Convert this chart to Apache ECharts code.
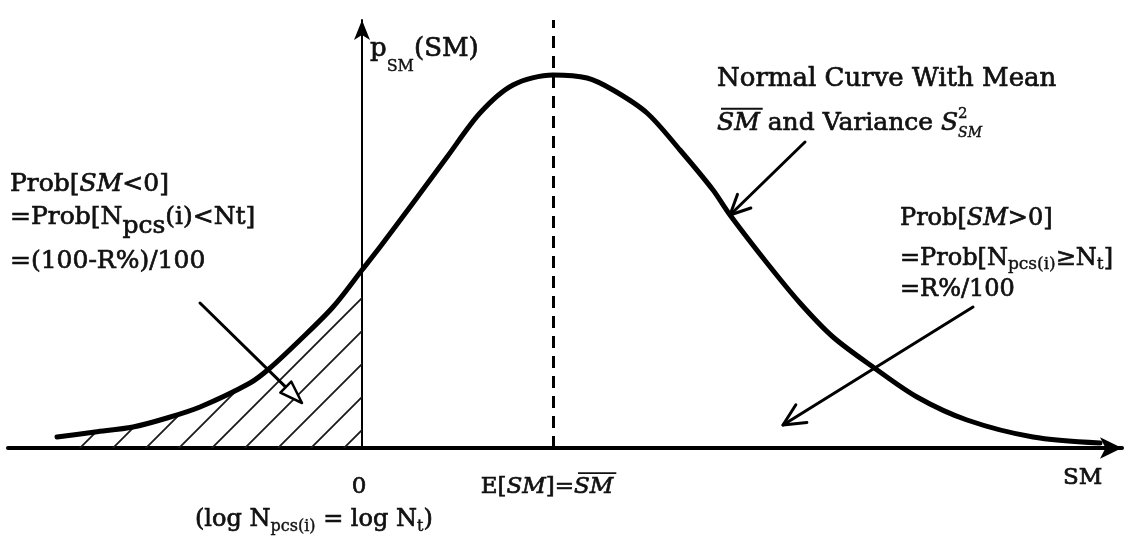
<!DOCTYPE html>
<html>
<head>
<meta charset="utf-8">
<script src="https://cdn.jsdelivr.net/npm/echarts@6/dist/echarts.min.js"></script>
<style>
  html, body { margin: 0; padding: 0; background: #fff; }
  #chart { width: 1134px; height: 545px; }
</style>
</head>
<body>
<div id="chart"></div>
<script>
// Safety margin SM (horizontal axis) and the normal density p_SM(SM) drawn over it
const smValues = [-3.05, -2.67, -2.29, -1.95, -1.62, -1.12, -0.92, -0.62, -0.29, 0.00,
                  0.18, 0.51, 0.85, 1.18, 1.51, 1.91, 2.25, 2.51, 2.85, 3.18,
                  3.51, 3.68, 4.05, 4.38, 4.71, 5.11, 5.55, 6.05, 6.71, 7.38];
const density  = [0.11, 0.16, 0.21, 0.30, 0.41, 0.65, 0.80, 1.08, 1.41, 1.78,
                  2.01, 2.45, 2.91, 3.35, 3.63, 3.73, 3.70, 3.58, 3.35, 2.98,
                  2.58, 2.33, 1.85, 1.45, 1.11, 0.81, 0.51, 0.28, 0.11, 0.05];
const meanSM = 1.91;   // E[SM]
const zeroSM = 0;      // log Npcs(i) = log Nt

// Arrow anchors in axis units: [from, to]
const arrowFail  = [[-1.62, 1.45], [-0.60, 0.45]];
const arrowCurve = [[4.43, 3.06], [3.68, 2.33]];
const arrowPass  = [[6.11, 1.41], [4.21, 0.23]];

const curve = smValues.map((x, i) => [x, density[i]]);
const failTail = curve.filter(p => p[0] <= zeroSM);

// Diagonal hatching for the failure region
const hatch = document.createElement('canvas');
hatch.width = 33; hatch.height = 33;
(function () {
  const g = hatch.getContext('2d');
  g.strokeStyle = '#1a1a1a';
  g.lineWidth = 1.8;
  g.beginPath();
  g.moveTo(-3, 36); g.lineTo(36, -3);
  g.moveTo(-3, 3); g.lineTo(3, -3);
  g.moveTo(30, 36); g.lineTo(36, 30);
  g.stroke();
})();

const FONT = '"DejaVu Serif", serif';
const INK = '#111';
const chart = echarts.init(document.getElementById('chart'), null, { renderer: 'canvas' });

chart.setOption({
  animation: false,
  backgroundColor: '#fff',
  grid: { left: 8, right: 12, top: 20, bottom: 97 },
  xAxis: {
    type: 'value', min: -3.54, max: 7.60,
    axisLine: { show: true, onZero: true, symbol: ['none', 'arrow'], symbolSize: [16, 22],
                lineStyle: { color: '#000', width: 4 } },
    axisTick: { show: false }, axisLabel: { show: false }, splitLine: { show: false }
  },
  yAxis: {
    type: 'value', min: 0, max: 4.28,
    axisLine: { show: true, onZero: true, symbol: ['none', 'arrow'], symbolSize: [12, 20],
                lineStyle: { color: '#000', width: 2 } },
    axisTick: { show: false }, axisLabel: { show: false }, splitLine: { show: false }
  },
  series: [
    {
      name: 'Prob[SM<0]', type: 'line', data: failTail, smooth: 0.3,
      symbol: 'none', z: 1, silent: true,
      lineStyle: { width: 0, opacity: 0 },
      areaStyle: { color: { image: hatch, repeat: 'repeat' }, opacity: 1 }
    },
    {
      name: 'p_SM(SM)', type: 'line', data: curve, smooth: 0.3,
      symbol: 'none', z: 3, silent: true,
      lineStyle: { color: '#000', width: 5, cap: 'round', join: 'round' },
      markLine: {
        silent: true, symbol: ['none', 'none'], label: { show: false },
        lineStyle: { color: '#000', width: 3, type: [12, 8] },
        data: [{ xAxis: meanSM }]
      }
    }
  ]
});

// ---- annotations ----
const mctx = document.createElement('canvas').getContext('2d');
function textRuns(x0, baseline, parts, size) {
  let x = x0, lastX = x0;
  const out = [];
  parts.forEach(p => {
    const s = p.s || size;
    const fs = p.i ? 'italic' : 'normal';
    mctx.font = fs + ' ' + s + 'px ' + FONT;
    const w = mctx.measureText(p.t).width;
    const px = p.stack ? lastX : x;
    const by = baseline + (p.dy || 0);
    out.push({
      type: 'text', x: px, y: by - 0.35 * s, silent: true, z: 10,
      style: { text: p.t, fontSize: s, fontFamily: FONT, fontStyle: fs, fill: INK,
               stroke: INK, lineWidth: s > 18 ? 0.7 : 0.4,
               textAlign: 'left', textVerticalAlign: 'middle' }
    });
    if (p.ov) {
      const oy = by - 0.73 * s - 5;
      out.push({ type: 'line', silent: true, z: 10,
        shape: { x1: px + 4, y1: oy, x2: px + w + 3, y2: oy },
        style: { stroke: INK, lineWidth: 1.8 } });
    }
    if (p.stack) { x = Math.max(x, px + w); } else { lastX = x; x += w; }
  });
  return out;
}
function centeredRuns(cx, baseline, parts, size) {
  let w = 0;
  parts.forEach(p => {
    mctx.font = (p.i ? 'italic ' : 'normal ') + (p.s || size) + 'px ' + FONT;
    w += mctx.measureText(p.t).width;
  });
  return textRuns(cx - w / 2, baseline, parts, size);
}

const px = p => chart.convertToPixel({ gridIndex: 0 }, p);
function arrow(pair, head, len, half) {
  const a = px(pair[0]), b = px(pair[1]);
  const ang = Math.atan2(b[1] - a[1], b[0] - a[0]);
  const l = [b[0] - len * Math.cos(ang - half), b[1] - len * Math.sin(ang - half)];
  const r = [b[0] - len * Math.cos(ang + half), b[1] - len * Math.sin(ang + half)];
  const els = [];
  if (head === 'open') {
    const base = [b[0] - len * Math.cos(ang) * Math.cos(half), b[1] - len * Math.sin(ang) * Math.cos(half)];
    els.push({ type: 'line', silent: true, z: 9, shape: { x1: a[0], y1: a[1], x2: base[0], y2: base[1] },
               style: { stroke: '#000', lineWidth: 3, lineCap: 'round' } });
    els.push({ type: 'polygon', silent: true, z: 9, shape: { points: [l, b, r] },
               style: { fill: '#fff', stroke: '#000', lineWidth: 2.5, lineJoin: 'round' } });
  } else {
    els.push({ type: 'line', silent: true, z: 9, shape: { x1: a[0], y1: a[1], x2: b[0], y2: b[1] },
               style: { stroke: '#000', lineWidth: 3, lineCap: 'round' } });
    els.push({ type: 'polyline', silent: true, z: 9, shape: { points: [l, b, r] },
               style: { stroke: '#000', lineWidth: 3, lineCap: 'round', lineJoin: 'round', fill: null } });
  }
  return els;
}

const zeroPx = px([zeroSM, 0]);
const meanPx = px([meanSM, 0]);

let graphics = [];
// y-axis title
graphics = graphics.concat(textRuns(zeroPx[0] + 8, 58,
  [{ t: 'p' }, { t: 'SM', s: 16, dy: 14 }, { t: '(SM)' }], 26));
// curve description
graphics = graphics.concat(textRuns(717, 88, [{ t: 'Normal Curve With Mean' }], 26));
graphics = graphics.concat(textRuns(717, 132,
  [{ t: 'SM', i: 1, ov: 1 }, { t: ' and Variance ' }, { t: 'S', i: 1 },
   { t: '2', s: 15, dy: -13 }, { t: 'SM', s: 14, i: 1, dy: 6, stack: 1 }], 25));
// failure probability
graphics = graphics.concat(textRuns(10, 193, [{ t: 'Prob[' }, { t: 'SM', i: 1 }, { t: '<0]' }], 25));
graphics = graphics.concat(textRuns(10, 226, [{ t: '=Prob[N' }, { t: 'pcs', dy: 9 }, { t: '(i)<Nt]' }], 25));
graphics = graphics.concat(textRuns(10, 270, [{ t: '=(100-R%)/100' }], 25));
// reliability
graphics = graphics.concat(textRuns(900, 227, [{ t: 'Prob[' }, { t: 'SM', i: 1 }, { t: '>0]' }], 24));
graphics = graphics.concat(textRuns(900, 267,
  [{ t: '=Prob[N' }, { t: 'pcs(i)', s: 17, dy: 4 }, { t: '≥N' }, { t: 't', s: 17, dy: 4 }, { t: ']' }], 24));
graphics = graphics.concat(textRuns(900, 298, [{ t: '=R%/100' }], 24));
// axis labels
graphics = graphics.concat(centeredRuns(zeroPx[0] - 3, 495, [{ t: '0' }], 23));
graphics = graphics.concat(centeredRuns(meanPx[0] - 6, 495,
  [{ t: 'E[' }, { t: 'SM', i: 1 }, { t: ']=' }, { t: 'SM', i: 1, ov: 1 }], 23));
graphics = graphics.concat(textRuns(195, 528,
  [{ t: '(log N' }, { t: 'pcs(i)', s: 16, dy: 4 }, { t: ' = log N' }, { t: 't', s: 16, dy: 4 }, { t: ')' }], 24));
graphics = graphics.concat(textRuns(1063, 486, [{ t: 'SM' }], 23));
// arrows
graphics = graphics.concat(arrow(arrowFail, 'open', 24, 0.33));
graphics = graphics.concat(arrow(arrowCurve, 'v', 22, 0.45));
graphics = graphics.concat(arrow(arrowPass, 'v', 24, 0.45));

chart.setOption({ graphic: { elements: graphics } });
</script>
</body>
</html>
